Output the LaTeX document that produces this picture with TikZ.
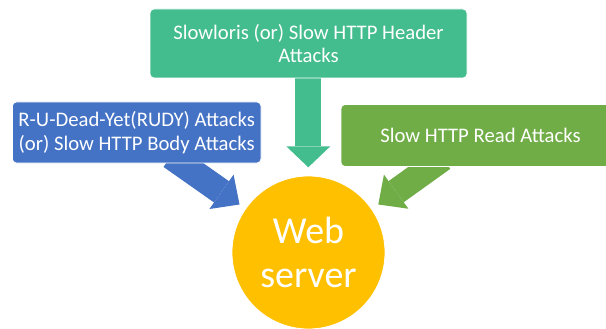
\documentclass[tikz,border=0pt]{standalone}
\usepackage{fontspec}
\setmainfont{Carlito}
\usetikzlibrary{arrows.meta}
\definecolor{topgreen}{HTML}{44BD8E}
\definecolor{boxblue}{HTML}{4472C4}
\definecolor{boxgreen}{HTML}{70AD47}
\definecolor{gold}{HTML}{FFC000}
\tikzset{
  attackbox/.style={rectangle, rounded corners=4pt, draw=white, line width=0.8pt, text=white, align=center, inner sep=0pt,
    font=\fontsize{20.7}{23.5}\selectfont},
  fatarrow/.style={line width=26pt, -{Triangle[width=42pt,length=22pt,line width=0pt]}},
  servernode/.style={circle, fill=gold, draw=white, line width=0.8pt, minimum size=153pt, inner sep=0pt, text=white, align=center,
    font=\fontsize{38}{44}\selectfont}
}
\begin{document}
\begin{tikzpicture}[x=1pt,y=-1pt]
\useasboundingbox (0,0) rectangle (606,329);
\clip (0,0) rectangle (606,329);
\coordinate (topT) at (308.3,70);
\coordinate (topH) at (308.3,167.3);
\coordinate (blueT) at (171,156.3);
\coordinate (blueH) at (239.5,204.5);
\coordinate (greenT) at (442.7,158.3);
\coordinate (greenH) at (378.3,204.5);
\draw[fatarrow, draw=topgreen, -{Triangle[width=44pt,length=21pt,line width=0pt]}] (topT) -- (topH);
\draw[fatarrow, draw=boxblue] (blueT) -- (blueH);
\draw[fatarrow, draw=boxgreen] (greenT) -- (greenH);
\node[attackbox, fill=topgreen, minimum width=317pt, minimum height=69pt] (slowloris) at (308.5,43.5)
  {Slowloris (or) Slow HTTP Header\\Attacks};
\node[attackbox, fill=boxblue, minimum width=248.6pt, minimum height=61pt] (rudy) at (136.7,132.5)
  {R-U-Dead-Yet(RUDY) Attacks\\(or) Slow HTTP Body Attacks};
\node[attackbox, fill=boxgreen, minimum width=279pt, minimum height=62pt] (read) at (480.5,135.5)
  {Slow HTTP Read Attacks};
\node[servernode] (server) at (308.5,252.5) {Web\\server};
\end{tikzpicture}
\end{document}
